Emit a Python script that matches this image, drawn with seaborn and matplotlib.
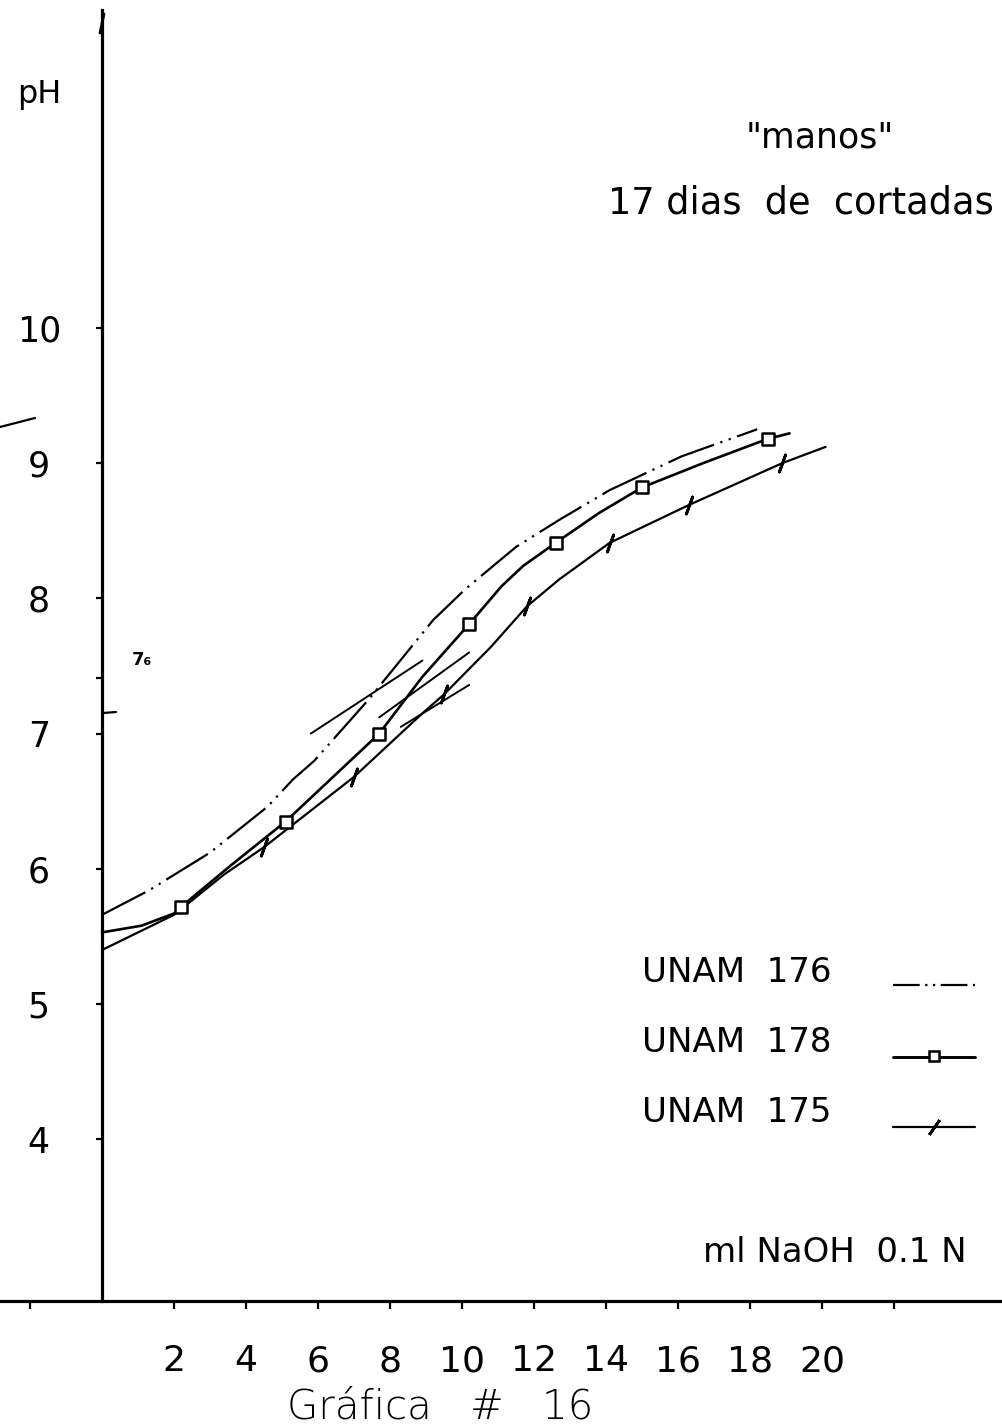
import matplotlib
matplotlib.use("Agg")
import matplotlib.pyplot as plt
from matplotlib.lines import Line2D
import pandas as pd
import seaborn as sns

# ---------------- data ----------------
ml_176 = [0.0, 1.3, 3.0, 4.6, 5.3, 5.9, 7.4, 9.2, 10.1, 11.5, 12.7, 14.1, 16.1, 18.2]
ph_176 = [5.66, 5.84, 6.12, 6.46, 6.66, 6.80, 7.25, 7.84, 8.07, 8.38, 8.58, 8.80, 9.05, 9.25]

ml_178 = [0.0, 1.1, 2.0, 2.2, 3.6, 5.1, 7.7, 8.9, 10.2, 11.1, 11.7, 12.6, 13.8, 15.0, 16.7, 18.5, 19.1]
ph_178 = [5.53, 5.58, 5.67, 5.72, 6.03, 6.35, 7.00, 7.42, 7.81, 8.09, 8.24, 8.41, 8.63, 8.82, 9.00, 9.18, 9.22]
mk_ml_178 = [2.2, 5.1, 7.7, 10.2, 12.6, 15.0, 18.5]
mk_ph_178 = [5.72, 6.35, 7.00, 7.81, 8.41, 8.82, 9.18]

ml_175 = [0.0, 2.0, 3.4, 4.5, 7.0, 8.9, 9.5, 10.8, 11.8, 12.7, 14.1, 16.3, 18.9, 20.1]
ph_175 = [5.40, 5.66, 5.96, 6.16, 6.68, 7.15, 7.29, 7.64, 7.94, 8.14, 8.41, 8.69, 9.00, 9.12]
mk_ml_175 = [4.5, 7.0, 9.5, 11.8, 14.1, 16.3, 18.9]
mk_ph_175 = [6.16, 6.68, 7.29, 7.94, 8.41, 8.69, 9.00]

# tangent lines drawn at the inflection points
tan_176_ml = [5.8, 8.9]
tan_176_ph = [7.00, 7.54]
tan_178_ml = [7.7, 10.2]
tan_178_ph = [7.12, 7.60]
tan_175_ml = [8.3, 10.2]
tan_175_ph = [7.05, 7.36]

x_ticks = [2, 4, 6, 8, 10, 12, 14, 16, 18, 20]
x_minor = [-2, 22]
y_ticks = [4, 5, 6, 7, 8, 9, 10]
y_minor = [7.41]

series_labels = ["UNAM  176", "UNAM  178", "UNAM  175"]

# ---------------- figure ----------------
sns.set_theme(style="white")
plt.rcParams["font.family"] = ["DejaVu Sans"]
plt.rcParams["text.color"] = "black"

W, H = 1003, 1426
fig = plt.figure(figsize=(W / 100, H / 100), dpi=100)
fig.patch.set_facecolor("white")
ax = fig.add_axes([0, 0, 1, 1])
ax.set_facecolor("white")
ax.set_xlim(-2.8333, 25.028)
ax.set_ylim(1.8806, 12.4241)

DASHDOT = (0, (22, 3, 1, 3, 1, 3))
LW = 1.6

d176 = pd.DataFrame({"ml": ml_176, "pH": ph_176})
d178 = pd.DataFrame({"ml": ml_178, "pH": ph_178})
d175 = pd.DataFrame({"ml": ml_175, "pH": ph_175})

sns.lineplot(data=d176, x="ml", y="pH", ax=ax, sort=False, estimator=None,
             color="black", lw=LW, linestyle=DASHDOT)
sns.lineplot(data=d178, x="ml", y="pH", ax=ax, sort=False, estimator=None,
             color="black", lw=LW + 0.3)
sns.lineplot(data=d175, x="ml", y="pH", ax=ax, sort=False, estimator=None,
             color="black", lw=LW)

for tx, ty in [(tan_176_ml, tan_176_ph), (tan_178_ml, tan_178_ph), (tan_175_ml, tan_175_ph)]:
    sns.lineplot(x=tx, y=ty, ax=ax, sort=False, estimator=None, color="black", lw=1.4)

sns.scatterplot(x=mk_ml_178, y=mk_ph_178, ax=ax, marker="s", s=80,
                facecolor="white", edgecolor="black", linewidth=1.8, zorder=5)
sns.scatterplot(x=mk_ml_175, y=mk_ph_175, ax=ax, marker=(2, 2, -20), s=170,
                color="black", linewidth=2.0, zorder=5)

# ---------------- axes ----------------
for s in ["top", "right"]:
    ax.spines[s].set_visible(False)
ax.spines["left"].set_position(("data", 0))
ax.spines["left"].set_bounds(2.805, 12.35)
ax.spines["bottom"].set_position(("data", 2.805))
ax.spines["bottom"].set_bounds(-2.83, 25.03)
for s in ["left", "bottom"]:
    ax.spines[s].set_color("black")
    ax.spines[s].set_linewidth(2.3)

ax.set_yticks(y_ticks)
ax.set_yticklabels([str(v) for v in y_ticks])
ax.set_yticks(y_minor, minor=True)
ax.tick_params(axis="y", which="both", direction="out", length=4.5, width=1.6, pad=41,
               labelsize=25, colors="black", left=True)
for t in ax.get_yticklabels():
    t.set_ha("center")

ax.set_xticks(x_ticks)
ax.set_xticklabels([str(v) for v in x_ticks])
ax.set_xticks(x_minor, minor=True)
ax.tick_params(axis="x", which="both", direction="out", length=6, width=1.6,
               pad=25, labelsize=26, colors="black", bottom=True)
ax.set_xlabel("")
ax.set_ylabel("")


def fx(px):
    return px / W


def fy(py):
    return 1 - py / H


def fline(xs, ys, **kw):
    fig.add_artist(Line2D([fx(v) for v in xs], [fy(v) for v in ys],
                          transform=fig.transFigure, color="black", **kw))


# small hand-drawn marks of the original sheet
fline([100, 104], [33, 14], lw=2.0)          # arrow hook on top of the y axis
fline([0, 35], [427, 418], lw=1.6)           # stray stroke near the "9"
fline([103, 116], [713, 712], lw=1.6)        # small mark right of the axis

# ---------------- texts ----------------
fig.text(fx(39), fy(95), "pH", ha="center", va="center", fontsize=23)
fig.text(fx(820), fy(137), '"manos"', ha="center", va="center", fontsize=25)
fig.text(fx(608), fy(203), "17 dias  de  cortadas", ha="left", va="center", fontsize=26.5)
fig.text(fx(142), fy(660), "7\u2086", ha="center", va="center", fontsize=13,
         fontweight="bold")
fig.text(fx(703), fy(1252), "ml NaOH  0.1 N", ha="left", va="center", fontsize=24.5)
fig.text(fx(440), fy(1407), "Gr\u00e1fica   #   16", ha="center", va="center",
         fontsize=29, fontweight="light")

# ---------------- legend ----------------
leg_text_y = [972, 1042, 1112]
leg_line_y = [985, 1057, 1127]
for lab, ty in zip(series_labels, leg_text_y):
    fig.text(fx(642), fy(ty), lab, ha="left", va="center", fontsize=24.5)

fig.add_artist(Line2D([fx(893), fx(975)], [fy(leg_line_y[0])] * 2,
                      transform=fig.transFigure, color="black", lw=LW,
                      linestyle=(0, (12, 2.5, 1, 2.5, 1, 2.5))))
fig.add_artist(Line2D([fx(893), fx(975)], [fy(leg_line_y[1])] * 2,
                      transform=fig.transFigure, color="black", lw=LW + 0.5))
fig.add_artist(Line2D([fx(934)], [fy(leg_line_y[1] - 1)], transform=fig.transFigure,
                      marker="s", markersize=7.5, markerfacecolor="white",
                      markeredgecolor="black", markeredgewidth=1.8, lw=0))
fig.add_artist(Line2D([fx(893), fx(975)], [fy(leg_line_y[2])] * 2,
                      transform=fig.transFigure, color="black", lw=LW))
fig.add_artist(Line2D([fx(934)], [fy(leg_line_y[2])], transform=fig.transFigure,
                      marker=(2, 2, -35), markersize=13, markeredgecolor="black",
                      markeredgewidth=2.0, lw=0))

fig.savefig("out.png", dpi=100, facecolor="white")
